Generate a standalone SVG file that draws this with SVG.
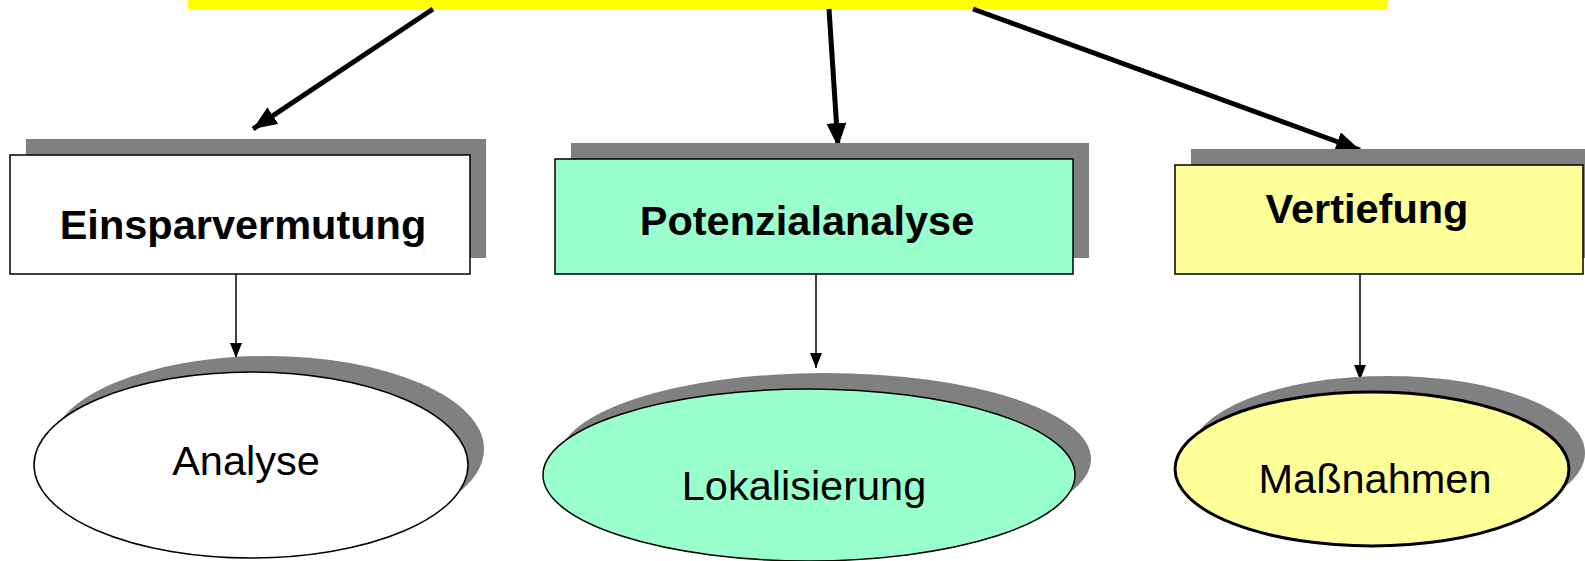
<svg xmlns="http://www.w3.org/2000/svg" width="1585" height="561" viewBox="0 0 1585 561">
<defs>
<style>
.sh{fill:#808080;stroke:none}
.bx{stroke:#000;stroke-width:1.5}
.tb{font-family:"Liberation Sans",Arial,sans-serif;font-weight:bold;font-size:41.5px;text-anchor:middle;fill:#000}
.tr{font-family:"Liberation Sans",Arial,sans-serif;font-size:41.5px;text-anchor:middle;fill:#000}
.thick{stroke:#000;stroke-width:5;fill:none}
.thin{stroke:#000;stroke-width:1.5;fill:none}
</style>
<marker id="big" markerUnits="userSpaceOnUse" viewBox="0 0 24 20" refX="24" refY="10" markerWidth="24" markerHeight="20" orient="auto"><path d="M0,0 L24,10 L0,20 Z" fill="#000"/></marker>
<marker id="small" markerUnits="userSpaceOnUse" viewBox="0 0 15 12" refX="15" refY="6" markerWidth="15" markerHeight="12" orient="auto"><path d="M0,0 L15,6 L0,12 Z" fill="#000"/></marker>
</defs>
<rect id="top" x="188" y="0" width="1199" height="9" fill="#ffff00"/>
<g id="connectors">
<line class="thick" x1="433" y1="9" x2="253" y2="129" marker-end="url(#big)"/>
<line class="thick" x1="829" y1="9" x2="838" y2="147" marker-end="url(#big)"/>
<line class="thick" x1="973" y1="9" x2="1360" y2="150" marker-end="url(#big)"/>
<line class="thin" x1="236" y1="274" x2="236" y2="358" marker-end="url(#small)"/>
<line class="thin" x1="816" y1="274" x2="816" y2="368" marker-end="url(#small)"/>
<line class="thin" x1="1360" y1="274" x2="1360" y2="380" marker-end="url(#small)"/>
</g>
<g id="box1">
<rect class="sh" x="26" y="139" width="460" height="119"/>
<rect class="bx" x="10" y="155" width="460" height="119" fill="#ffffff"/>
<text class="tb" x="243" y="239">Einsparvermutung</text>
</g>
<g id="box2">
<rect class="sh" x="571" y="143" width="518" height="115"/>
<rect class="bx" x="555" y="159" width="518" height="115" fill="#99ffcc"/>
<text class="tb" x="807" y="235">Potenzialanalyse</text>
</g>
<g id="box3">
<rect class="sh" x="1191" y="149" width="420" height="109"/>
<rect class="bx" x="1175" y="165" width="408" height="109" fill="#ffff99"/>
<text class="tb" x="1367" y="223">Vertiefung</text>
</g>
<g id="ell1">
<ellipse class="sh" cx="267" cy="449" rx="217" ry="93"/>
<ellipse class="bx" cx="251" cy="465" rx="217" ry="93" fill="#ffffff"/>
<text class="tr" x="246" y="475">Analyse</text>
</g>
<g id="ell2">
<ellipse class="sh" cx="825" cy="459" rx="266" ry="86"/>
<ellipse class="bx" cx="809" cy="475" rx="266" ry="86" fill="#99ffcc"/>
<text class="tr" x="804" y="500">Lokalisierung</text>
</g>
<g id="ell3">
<ellipse class="sh" cx="1388" cy="453" rx="197" ry="77"/>
<ellipse cx="1372" cy="469" rx="197" ry="77" fill="#ffff99" stroke="#000" stroke-width="3"/>
<text class="tr" x="1375" y="493">Maßnahmen</text>
</g>
</svg>
